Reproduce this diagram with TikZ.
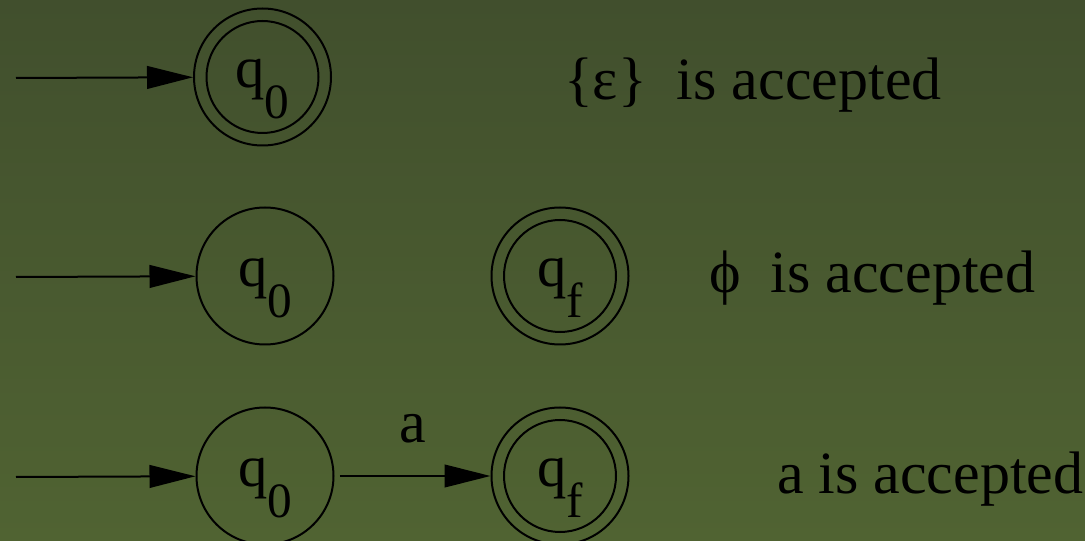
\documentclass[tikz,border=0pt]{standalone}
\usepackage{fontspec}
\setmainfont{Liberation Serif}
\usetikzlibrary{arrows.meta}

\definecolor{bgtop}{RGB}{65,79,45}
\definecolor{bgbottom}{RGB}{80,99,50}
\newcommand{\qname}[1]{q\raisebox{-23pt}{\fontsize{37}{37}\selectfont #1}}

\tikzset{every picture/.style={line width=1.5pt},
  statenode/.style={draw, circle, minimum size=102.75pt, inner sep=0pt,
    font=\fontsize{44}{44}\selectfont, text height=32pt, text depth=16pt},
  acceptnode/.style={statenode, path picture={\draw[line width=1.5pt] (path picture bounding box.center) circle (42pt);}},
  trans/.style={-{Triangle[length=34.5pt,width=17pt]}},
  caption/.style={anchor=base west, inner sep=0pt, font=\fontsize{45}{45}\selectfont}}

\begin{document}
\begin{tikzpicture}[x=0.75pt,y=0.75pt,yscale=-1,xscale=1]
% background
\useasboundingbox (0,0) rectangle (1085,541);
\clip (0,0) rectangle (1085,541);
\fill [top color=bgtop, bottom color=bgbottom] (0,0) rectangle (1085,541);

% epsilon row
\node [acceptnode] (q0e) at (262.5,77) {\qname{0}};
\coordinate (ine) at (16,78);
\draw [trans] (ine) -- (q0e);
\node [caption] (cape) at (563,100) {\{ε\}~~is accepted};

% empty set row
\node [statenode] (q0p) at (265,276) {\qname{0}};
\node [acceptnode] (qfp) at (560,276) {\qname{f}};
\coordinate (inp) at (16,277);
\draw [trans] (inp) -- (q0p);
\node [caption] (capp) at (708,293) {ϕ~~is accepted};

% single symbol row
\node [statenode] (q0a) at (265,476) {\qname{0}};
\node [acceptnode] (qfa) at (560,476) {\qname{f}};
\coordinate (ina) at (16,477);
\draw [trans] (ina) -- (q0a);
\draw [trans, shorten <=4pt] (q0a) -- node [above=24pt, inner sep=0pt, font=\fontsize{45}{45}\selectfont] (lba) {a} (qfa);
\node [caption] (capa) at (776,493) {a is accepted};

\end{tikzpicture}
\end{document}
